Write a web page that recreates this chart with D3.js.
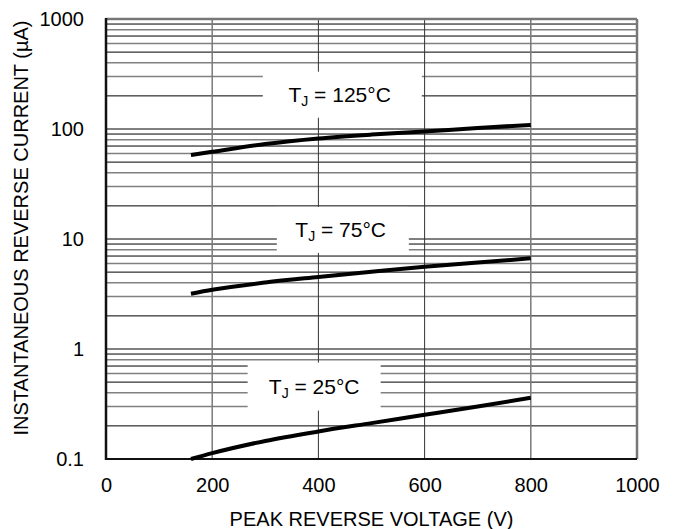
<!DOCTYPE html>
<html>
<head>
<meta charset="utf-8">
<script src="https://cdn.jsdelivr.net/npm/d3@7"></script>
<style>
  body { margin: 0; background: #fff; }
  svg { font-family: "Liberation Sans", Arial, sans-serif; }
</style>
</head>
<body>
<svg id="chart" width="679" height="529"></svg>
<script>
// data
const voltage = [160, 200, 300, 400, 500, 600, 700, 800];
const tj125 = [58, 62, 73, 82, 89, 95, 102, 109];
const tj75 = [3.18, 3.45, 4.02, 4.52, 5.05, 5.6, 6.1, 6.68];
const tj25 = [0.1, 0.113, 0.146, 0.178, 0.212, 0.252, 0.3, 0.36];

const xTicks = [0, 200, 400, 600, 800, 1000];
const yTicks = [0.1, 1, 10, 100, 1000];
const seriesLabels = ["125°C", "75°C", "25°C"];

// label boxes (volts / µA for centre, px for size)
const labelPos = [
    { v: 445, i: 205, w: 159, h: 46, tx: 440 },
    { v: 446, i: 12.1, w: 132, h: 46, tx: 442 },
    { v: 392, i: 0.455, w: 133, h: 48, tx: 392 }
];

const svg = d3.select("#chart");
const margin = { left: 106, right: 42, top: 19, bottom: 70 };
const width = 679 - margin.left - margin.right;
const height = 529 - margin.top - margin.bottom;

const x = d3.scaleLinear().domain([0, 1000]).range([margin.left, margin.left + width]);
const y = d3.scaleLog().domain([0.1, 1000]).range([margin.top + height, margin.top]);

const grid = svg.append("g");

// horizontal log grid
const blackMult = [1, 2, 5, 7, 9];
for (let d = 0.1; d < 1000; d *= 10) {
    for (let m = 1; m <= 9; m++) {
        const val = +(d * m).toPrecision(3);
        if (val <= 0.1) continue;
        grid.append("line")
            .attr("x1", x(0)).attr("x2", x(1000))
            .attr("y1", y(val)).attr("y2", y(val))
            .attr("stroke", blackMult.includes(m) ? "#000" : "#808080")
            .attr("stroke-width", blackMult.includes(m) ? 1 : 1.5);
    }
}

// vertical grid
[200, 400, 600, 800].forEach(v => {
    grid.append("line")
        .attr("x1", x(v)).attr("x2", x(v))
        .attr("y1", y(0.1)).attr("y2", y(1000))
        .attr("stroke", (v === 200 || v === 800) ? "#7a7a7a" : "#333")
        .attr("stroke-width", (v === 200 || v === 800) ? 1.5 : 1);
});

// white boxes behind labels
labelPos.forEach(p => {
    svg.append("rect")
        .attr("x", x(p.v) - p.w / 2).attr("y", y(p.i) - p.h / 2)
        .attr("width", p.w).attr("height", p.h)
        .attr("fill", "#fff");
});

// frame
svg.append("line").attr("x1", x(0)).attr("x2", x(1000)).attr("y1", y(1000)).attr("y2", y(1000))
    .attr("stroke", "#777").attr("stroke-width", 2.5);
svg.append("line").attr("x1", x(1000)).attr("x2", x(1000)).attr("y1", y(1000)).attr("y2", y(0.1))
    .attr("stroke", "#777").attr("stroke-width", 2.5);
svg.append("line").attr("x1", x(0)).attr("x2", x(1000)).attr("y1", y(0.1)).attr("y2", y(0.1))
    .attr("stroke", "#111").attr("stroke-width", 2);
svg.append("line").attr("x1", x(0)).attr("x2", x(0)).attr("y1", y(1000) - 1).attr("y2", y(0.1) + 1)
    .attr("stroke", "#111").attr("stroke-width", 2.5);

// curves
const line = d3.line()
    .x((d, i) => x(voltage[i]))
    .y(d => y(d))
    .curve(d3.curveMonotoneX);

[tj125, tj75, tj25].forEach(s => {
    svg.append("path")
        .datum(s)
        .attr("d", line)
        .attr("fill", "none")
        .attr("stroke", "#000")
        .attr("stroke-width", 4);
});

// labels
labelPos.forEach((p, k) => {
    const t = svg.append("text")
        .attr("x", x(p.tx)).attr("y", y(p.i) + 7)
        .attr("text-anchor", "middle")
        .attr("font-size", 21)
        .attr("fill", "#000");
    t.append("tspan").text("T");
    t.append("tspan").text("J").attr("font-size", 14).attr("dy", 4);
    t.append("tspan").text(" = " + seriesLabels[k]).attr("dy", -4);
});

// axes
const xAxis = svg.append("g")
    .attr("transform", `translate(0,${y(0.1)})`)
    .call(d3.axisBottom(x).tickValues(xTicks).tickSize(0).tickPadding(19).tickFormat(d3.format("d")));
xAxis.select(".domain").remove();
xAxis.selectAll("text").attr("font-size", 20).attr("font-family", "Liberation Sans, Arial, sans-serif").attr("fill", "#000");

const yAxis = svg.append("g")
    .attr("transform", `translate(${x(0)},0)`)
    .call(d3.axisLeft(y).tickValues(yTicks).tickSize(0).tickPadding(22).tickFormat(d => d < 1 ? "0.1" : d3.format("d")(d)));
yAxis.select(".domain").remove();
yAxis.selectAll("text").attr("font-size", 20).attr("font-family", "Liberation Sans, Arial, sans-serif").attr("fill", "#000");

svg.append("text")
    .attr("x", (x(0) + x(1000)) / 2).attr("y", 526)
    .attr("text-anchor", "middle")
    .attr("font-size", 20)
    .text("PEAK REVERSE VOLTAGE (V)");

svg.append("text")
    .attr("transform", "translate(28,228) rotate(-90)")
    .attr("text-anchor", "middle")
    .attr("font-size", 20)
    .text("INSTANTANEOUS REVERSE CURRENT (µA)");
</script>
</body>
</html>
